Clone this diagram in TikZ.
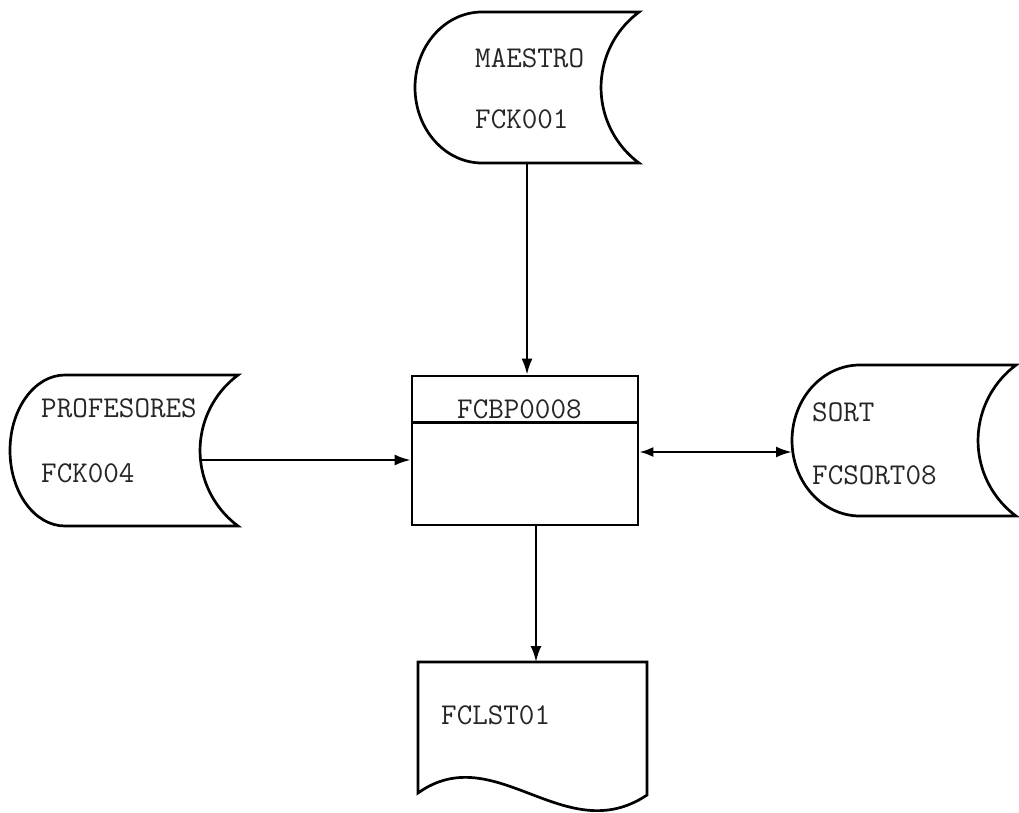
\documentclass[tikz,border=0pt]{standalone}
\usetikzlibrary{arrows.meta}
\begin{document}
\begin{tikzpicture}[x=1pt,y=-1pt,
  shp/.style={line width=2.7pt,line join=miter},
  lbl/.style={anchor=base west,inner sep=0pt,text=black!85,font=\fontsize{30.2}{35}\selectfont\ttfamily},
  arr/.style={line width=2.3pt,-{Latex[length=16pt,width=11pt]}},
  darr/.style={line width=2.3pt,{Latex[length=14pt,width=10pt]}-{Latex[length=16pt,width=11pt]}},
  procbox/.style={draw,line width=2.7pt,minimum width=226pt,minimum height=149pt,inner sep=0pt}]
\useasboundingbox (0,0) rectangle (1019,813);

% MAESTRO storage
\draw[shp] (482,12) arc[start angle=270,end angle=90,x radius=67,y radius=75.5]
  -- (639,163) arc[start angle=126.6,end angle=233.4,radius=94] -- cycle;
\node[lbl] (maestroA) at (475,68) {MAESTRO};
\node[lbl] (maestroB) at (475,129) {FCK001};
\coordinate (maestro) at (527,163);

% PROFESORES storage
\draw[shp] (65,375) arc[start angle=270,end angle=90,x radius=55,y radius=75.5]
  -- (238,526) arc[start angle=126.6,end angle=233.4,radius=94] -- cycle;
\node[lbl] (profA) at (41,417) {PROFESORES};
\node[lbl] (profB) at (41,482) {FCK004};
\coordinate (prof) at (200,460);

% SORT storage
\draw[shp] (860,365) arc[start angle=270,end angle=90,x radius=68,y radius=75.5]
  -- (1016,516) arc[start angle=126.6,end angle=233.4,radius=94] -- cycle;
\node[lbl] (sortA) at (812,421) {SORT};
\node[lbl] (sortB) at (812,484) {FCSORT08};
\coordinate (sort) at (792,452);

% process box
\node[procbox] (proc) at (525,450.5) {};
\draw[shp] ([yshift=-48pt]proc.north west) -- ([yshift=-48pt]proc.north east);
\node[lbl] (procname) at (457,418) {FCBP0008};

% document
\draw[shp] (418,662) -- (647,662) -- (647,795)
  .. controls (565,850) and (495,738) .. (418,793) -- cycle;
\node[lbl] (docname) at (441,724) {FCLST01};
\coordinate (doc) at (536,662);

% connectors
\draw[arr] (maestro) -- (maestro |- proc.north);
\draw[arr] (prof) -- (prof -| proc.west);
\draw[darr] (sort -| proc.east) -- (sort);
\draw[arr] (doc |- proc.south) -- (doc);
\end{tikzpicture}
\end{document}
